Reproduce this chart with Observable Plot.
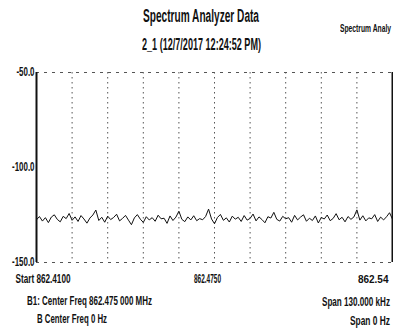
<!DOCTYPE html>
<html><head><meta charset="utf-8">
<script src="https://cdn.jsdelivr.net/npm/d3@7"></script>
<script src="https://cdn.jsdelivr.net/npm/@observablehq/plot@0.6"></script>
<style>
body{margin:0;background:#fff;}
#wrap{position:relative;width:393px;height:335px;overflow:hidden;font-family:"Liberation Sans Narrow","Liberation Sans","DejaVu Sans",sans-serif;}
.t{position:absolute;white-space:nowrap;color:#111;font-weight:bold;line-height:1;transform-origin:0 50%;}
svg text{font-family:"Liberation Sans Narrow","Liberation Sans","DejaVu Sans",sans-serif;font-weight:bold;}
</style></head><body>
<div id="wrap"></div>
<script>
// ---- data ----
const titleText = "Spectrum Analyzer Data";
const subtitleText = "2_1 (12/7/2017 12:24:52 PM)";
const cornerText = "Spectrum Analy";
const freqStart = 862.41;
const freqStop = 862.54;
const gridFreqs = [862.423, 862.436, 862.449, 862.462, 862.475, 862.488, 862.501, 862.514, 862.527];
const yTicks = [-50, -100, -150];
const hGrid = [-50, -150];
const xTickFreqs = [862.41, 862.475, 862.54];
const xTickLabels = ["Start 862.4100", "862.4750", "862.54"];
const footLeft = ["B1: Center Freq 862.475 000 MHz", "B Center Freq 0 Hz"];
const footRight = ["Span 130.000 kHz", "Span 0 Hz"];
const traceDbm = [
-127.5,-125.8,-128.2,-126.4,-129.0,-126.1,-124.9,-127.3,-128.6,-125.7,
-126.9,-124.2,-127.8,-126.0,-128.4,-125.3,-127.1,-129.3,-126.6,-125.0,
-122.4,-127.9,-126.2,-128.8,-125.6,-127.4,-126.3,-124.6,-128.1,-126.8,
-125.2,-127.7,-130.1,-126.5,-124.8,-127.2,-128.9,-125.9,-127.6,-126.4,
-128.3,-125.1,-127.0,-126.7,-129.4,-125.5,-127.9,-126.1,-123.0,-127.3,
-128.5,-126.0,-127.6,-125.4,-128.0,-126.9,-127.5,-125.8,-121.9,-127.1,
-129.6,-126.3,-124.7,-127.8,-126.5,-128.7,-125.6,-127.2,-126.2,-128.4,
-125.3,-127.7,-126.8,-124.5,-128.1,-126.0,-127.4,-129.1,-125.9,-126.6,
-123.6,-127.3,-128.2,-125.7,-127.0,-126.4,-128.8,-125.2,-127.6,-126.1,
-124.9,-128.3,-126.7,-127.9,-125.5,-129.2,-126.3,-127.1,-125.0,-128.0,
-126.8,-124.3,-127.5,-126.2,-128.6,-125.8,-127.3,-126.0,-122.3,-127.7,
-125.4,-128.1,-126.5,-127.0,-124.8,-128.4,-126.1,-127.6,-125.9,-123.8,-127.2
];

// sweep points evenly spaced across the span
const step = (freqStop - freqStart) / (traceDbm.length - 1);
const trace = traceDbm.map((v, i) => ({f: freqStart + i * step, dbm: v}));

const wrap = document.getElementById("wrap");

const chart = Plot.plot({
  width: 393, height: 335,
  marginTop: 72, marginBottom: 73, marginLeft: 36, marginRight: 1,
  style: {background: "transparent", color: "#111"},
  x: {domain: [freqStart, freqStop], axis: null},
  y: {domain: [-150, -50], axis: null},
  marks: [
    Plot.ruleX(gridFreqs, {stroke: "#555", strokeWidth: 1, strokeDasharray: "1.5,3.5"}),
    Plot.ruleY(hGrid, {stroke: "#555", strokeWidth: 1, strokeDasharray: "3,5"}),
    Plot.ruleX([freqStart], {stroke: "#111", strokeWidth: 2}),
    Plot.ruleX([freqStop], {stroke: "#111", strokeWidth: 2}),
    Plot.lineY(trace, {x: "f", y: "dbm", stroke: "#111", strokeWidth: 1}),
    Plot.axisY(yTicks, {tickFormat: d => d.toFixed(1), tickSize: 0, tickPadding: 2, fontSize: 12, label: null, className: "ylab"}),
    Plot.text([0], {x: () => xTickFreqs[0], text: () => xTickLabels[0], frameAnchor: "bottom", textAnchor: "start", dx: -21, dy: 20, fontSize: 12, className: "xl0"}),
    Plot.text([1], {x: () => xTickFreqs[1], text: () => xTickLabels[1], frameAnchor: "bottom", textAnchor: "middle", dx: -7, dy: 20, fontSize: 12, className: "xl1"}),
    Plot.text([2], {x: () => xTickFreqs[2], text: () => xTickLabels[2], frameAnchor: "bottom", textAnchor: "end", dx: -4, dy: 20, fontSize: 10, className: "xl2"})
  ]
});
wrap.appendChild(chart);

function fitSvg(sel, w) {
  chart.querySelectorAll(sel + " text").forEach(t => {
    t.setAttribute("textLength", w);
    t.setAttribute("lengthAdjust", "spacingAndGlyphs");
  });
}
function squeezeSvg(sel, f) {
  chart.querySelectorAll(sel + " text").forEach(t => {
    const L = t.getComputedTextLength();
    t.setAttribute("textLength", L * f);
    t.setAttribute("lengthAdjust", "spacingAndGlyphs");
  });
}
squeezeSvg(".ylab", 0.66);
fitSvg(".xl0", 55);
fitSvg(".xl1", 27);

function label(txt, left, cy, size, width) {
  const d = document.createElement("div");
  d.className = "t";
  d.textContent = txt;
  d.style.fontSize = size + "px";
  d.style.left = left + "px";
  wrap.appendChild(d);
  const r = d.getBoundingClientRect();
  d.style.top = (cy - r.height / 2) + "px";
  d.style.transform = `scaleX(${width / r.width})`;
  return d;
}
label(titleText, 143, 16, 18, 116);
label(subtitleText, 142, 44, 17, 119);
label(cornerText, 340, 28, 11, 51);
label(footLeft[0], 27, 301, 12, 125);
label(footLeft[1], 37, 319, 12, 70);
label(footRight[0], 322, 302, 12, 68);
label(footRight[1], 350, 321, 12, 40);
</script>
</body></html>
